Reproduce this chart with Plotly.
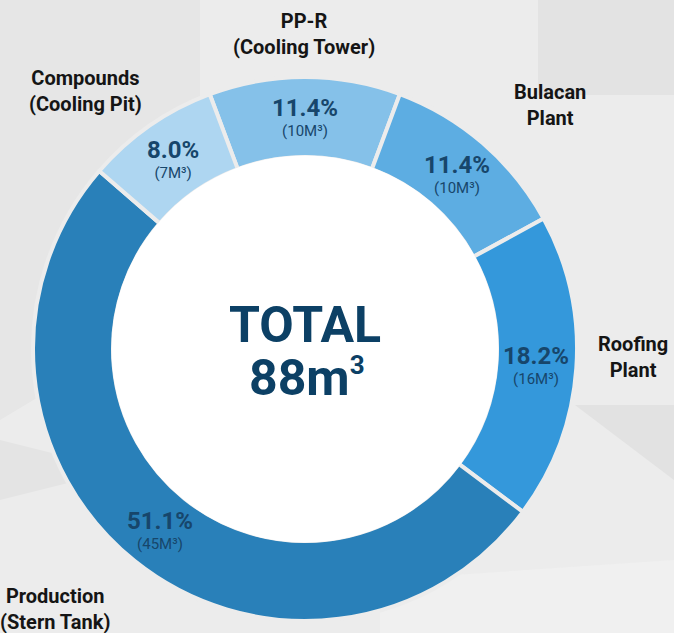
import math
import plotly.graph_objects as go

# ---- data ----
labels = ["PP-R<br>(Cooling Tower)", "Bulacan<br>Plant", "Roofing<br>Plant",
          "Production<br>(Stern Tank)", "Compounds<br>(Cooling Pit)"]
values = [10, 10, 16, 45, 7]
colors = ["#85c1e9", "#5dade2", "#3498db", "#2980b9", "#aed6f1"]
total_label = "TOTAL"
total_value = "88m"
total_unit_sup = "3"

W, H = 674, 633
cx, cy, R, r_in = 305, 349, 272, 192
rotation = -20.5

def px(x):
    return x / W

def py(y):
    return 1 - y / H

fig = go.Figure()
fig.add_trace(go.Pie(
    labels=labels,
    values=values,
    sort=False,
    direction="clockwise",
    rotation=rotation,
    hole=r_in / R,
    marker=dict(colors=colors, line=dict(color="#ececec", width=4)),
    textinfo="none",
    hoverinfo="label+value+percent",
    showlegend=False,
    domain=dict(x=[px(cx - R), px(cx + R)], y=[py(cy + R), py(cy - R)]),
))

# inside value labels, placed at each slice's mid-angle on the ring's mid-radius
total = sum(values)
r_mid = (R + r_in) / 2
cum = 0
for v in values:
    ang = math.radians(rotation + (cum + v / 2) / total * 360)
    cum += v
    x = cx + r_mid * math.sin(ang)
    y = cy - r_mid * math.cos(ang)
    fig.add_annotation(
        x=px(x), y=py(y), xref="paper", yref="paper", showarrow=False,
        text=f"<b><span style='font-size:24px'>{v / total * 100:.1f}%</span></b><br>({v}M³)",
        font=dict(family="Roboto", size=15, color="#17466b"),
        align="center", xanchor="center", yanchor="middle")

# outside category labels (positions are layout)
label_pos = [(304, 34), (550, 105), (633, 357), (55, 609), (85, 91)]
for lab, (x, y) in zip(labels, label_pos):
    fig.add_annotation(x=px(x), y=py(y), xref="paper", yref="paper",
                       text="<b>" + lab + "</b>", showarrow=False,
                       font=dict(family="Roboto", size=20, color="#151515"),
                       align="center", xanchor="center", yanchor="middle")

fig.add_annotation(x=px(cx), y=py(325), xref="paper", yref="paper",
                   text="<b>" + total_label + "</b>", showarrow=False,
                   font=dict(family="Roboto", size=50, color="#0c4065"),
                   xanchor="center", yanchor="middle")
fig.add_annotation(x=px(cx + 2), y=py(378), xref="paper", yref="paper",
                   text="<b>" + total_value + "<sup><span style='font-size:26px'>"
                        + total_unit_sup + "</span></sup></b>",
                   showarrow=False,
                   font=dict(family="Roboto", size=50, color="#0c4065"),
                   xanchor="center", yanchor="middle")

shapes = []
# faint background geometry
def poly(pts, color):
    d = "M " + " L ".join(f"{px(a)},{py(b)}" for a, b in pts) + " Z"
    return dict(type="path", xref="paper", yref="paper", path=d,
                fillcolor=color, line=dict(width=0), layer="below")

shapes.append(poly([(0, 0), (200, 0), (200, 300), (0, 420)], "#e6e6e6"))
shapes.append(poly([(538, 0), (674, 0), (674, 95), (538, 95)], "#e3e3e3"))
shapes.append(poly([(575, 405), (674, 405), (674, 480)], "#e2e2e2"))
shapes.append(poly([(0, 440), (120, 470), (0, 500)], "#e4e4e4"))
shapes.append(poly([(380, 580), (674, 560), (674, 633), (380, 633)], "#f0f0f0"))
# white centre
shapes.append(dict(type="circle", xref="paper", yref="paper",
                   x0=px(cx - r_in - 1.5), x1=px(cx + r_in + 1.5),
                   y0=py(cy + r_in + 1.5), y1=py(cy - r_in - 1.5),
                   fillcolor="#ffffff", line=dict(width=0), layer="above"))

fig.update_layout(
    width=W, height=H,
    margin=dict(l=0, r=0, t=0, b=0),
    paper_bgcolor="#ececec",
    plot_bgcolor="#ececec",
    shapes=shapes,
)

fig.write_html("out.html", config={"displayModeBar": False},
               post_script="document.body.style.margin='0';document.body.style.overflow='hidden';")
